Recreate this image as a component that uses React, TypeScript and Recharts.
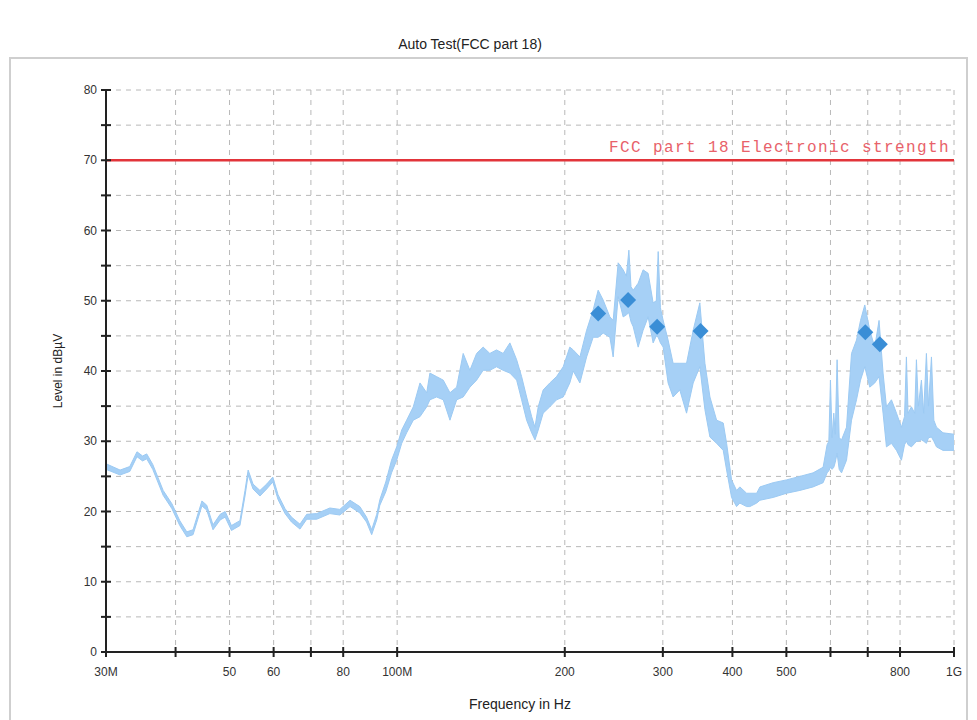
import React from 'react';
import { ComposedChart, Area, Scatter, XAxis, YAxis, CartesianGrid, ReferenceLine, Label } from 'recharts';

const freqs = [30, 31.8, 33.1, 34.1, 34.9, 35.5, 36.4, 38.0, 39.4, 40.7, 41.9, 43.0, 44.6, 45.5, 46.7, 48.1, 49.1, 50.4, 52.2, 53.3, 54.0, 55.1, 56.7, 58.3, 59.8, 61.1, 62.9, 64.6, 66.9, 68.8, 71.7, 75.7, 78.9, 82.3, 85.7, 88.1, 90.0, 91.9, 93.1, 95.4,
  97.7, 99.8, 101.9, 104.0, 106.9, 109.9, 113.0, 114.5, 117.7, 121.0, 124.4, 127.9, 131.4, 135.1, 138.9, 142.7, 146.7, 150.8, 155.0, 159.4, 163.9, 167.3, 170.8, 174.4, 176.8, 179.2, 182.9, 188.0, 193.3, 198.7,
  204.2, 207.1, 212.9, 218.9, 224.9, 229.6, 234.4, 241.0, 244.3, 249.4, 254.6, 258.0, 260.7, 263.0, 265.4, 270.9, 276.5, 282.3, 288.2, 292.0, 294.3, 297.0, 300.4, 306.6, 313.0, 321.8, 330.9, 340.1, 349.6, 357.0,
  364.5, 374.7, 385.1, 390.5, 398.6, 406.9, 412.5, 424.2, 429.9, 442.2, 448.2, 473.4, 500.4, 528.7, 558.4, 582.0, 591.7, 596.0, 600.0, 604.0, 608.3, 612.0, 616.7, 622.0, 628.1, 641.2, 654.6, 668.2, 679.4, 691.5,
  705.9, 720.6, 733.5, 745.8, 756.3, 772.1, 788.3, 804.6, 815.0, 821.4, 827.0, 838.6, 850.0, 856.1, 863.0, 874.0, 882.0, 892.2, 900.0, 911.0, 920.0, 930.1, 955.7, 1000];
const lows = [26.0, 25.2, 25.7, 27.8, 27.2, 27.5, 26.0, 22.3, 20.4, 18.0, 16.4, 16.7, 20.8, 20.2, 17.4, 18.8, 19.2, 17.3, 18.0, 22.2, 25.2, 23.2, 22.2, 23.2, 24.2, 21.7, 19.7, 18.5, 17.5, 18.9, 18.9, 19.7, 19.5, 20.7, 19.8, 18.5, 16.7, 18.8, 20.9, 22.8,
  25.5, 27.3, 29.7, 31.2, 33.0, 33.5, 34.9, 35.9, 36.3, 35.9, 33.0, 35.9, 36.3, 37.7, 38.7, 40.1, 40.1, 40.6, 40.1, 39.7, 38.7, 35.9, 33.0, 31.2, 30.2, 31.6, 34.0, 34.9, 35.9, 36.3,
  38.3, 40.0, 38.3, 42.0, 44.8, 44.8, 45.4, 44.8, 42.0, 50.6, 47.7, 48.0, 48.3, 47.0, 46.3, 43.4, 45.8, 47.7, 44.0, 45.0, 44.8, 44.0, 43.4, 38.3, 36.3, 37.3, 34.0, 38.3, 40.6, 34.5,
  30.6, 29.7, 28.7, 25.9, 22.0, 20.7, 21.2, 20.7, 20.7, 21.2, 21.6, 22.0, 22.6, 23.0, 23.5, 24.1, 25.5, 25.8, 26.3, 26.0, 26.3, 27.0, 28.3, 26.0, 25.5, 27.3, 33.0, 35.9, 38.7, 40.6,
  37.7, 38.3, 39.2, 34.0, 29.2, 29.7, 28.7, 27.3, 29.5, 30.0, 29.5, 29.2, 29.7, 30.0, 30.0, 30.2, 30.0, 29.7, 30.5, 30.6, 30.0, 29.2, 28.7, 28.7];
const highs = [26.8, 25.9, 26.4, 28.5, 27.9, 28.2, 26.7, 23.0, 21.1, 18.7, 17.1, 17.4, 21.5, 20.9, 18.1, 19.6, 20.0, 18.0, 18.7, 23.0, 25.9, 23.9, 23.0, 23.9, 24.9, 22.4, 20.4, 19.2, 18.2, 19.6, 19.7, 20.5, 20.3, 21.6, 20.7, 19.2, 17.4, 19.6, 21.7, 24.2,
  27.3, 29.2, 31.6, 33.0, 34.9, 38.3, 36.9, 39.7, 39.2, 38.7, 36.9, 37.7, 42.5, 40.1, 42.5, 43.4, 42.5, 43.0, 42.5, 44.0, 41.6, 39.2, 36.3, 33.5, 32.0, 34.9, 37.3, 38.3, 39.2, 40.6,
  43.4, 43.0, 42.0, 45.8, 48.7, 51.5, 50.1, 47.7, 47.2, 55.4, 54.4, 53.5, 57.2, 52.0, 51.5, 52.5, 54.4, 53.9, 49.7, 50.0, 57.0, 49.0, 47.2, 44.4, 41.1, 41.1, 41.1, 45.8, 49.7, 41.1,
  36.3, 33.0, 32.6, 29.7, 24.5, 23.0, 23.5, 22.6, 22.6, 22.6, 23.5, 24.1, 24.5, 25.0, 25.5, 26.3, 29.5, 30.0, 38.7, 30.5, 34.0, 31.0, 41.6, 30.5, 30.2, 32.0, 42.5, 44.4, 47.2, 49.4,
  45.8, 43.4, 47.2, 39.7, 34.9, 35.9, 34.0, 32.0, 33.5, 42.0, 34.0, 34.9, 34.0, 41.6, 35.0, 38.7, 34.0, 42.5, 35.0, 42.0, 33.0, 32.0, 31.2, 31.0];

const markerFreqs = [229.6, 259.9, 293.0, 350.6, 693.0, 735.9];
const markerLevels = [48.2, 50.1, 46.3, 45.7, 45.5, 43.8];

const xTicks = [30, 40, 50, 60, 70, 80, 100, 200, 300, 400, 500, 600, 700, 800, 1000];
const xTickLabels = ['30M', '', '50', '60', '', '80', '100M', '200', '300', '400', '500', '', '', '800', '1G'];
const yTicks = [0, 5, 10, 15, 20, 25, 30, 35, 40, 45, 50, 55, 60, 65, 70, 75, 80];
const yLabelTicks = [0, 10, 20, 30, 40, 50, 60, 70, 80];

const limitValue = 70;
const limitLabel = 'FCC part 18 Electronic strength';

const traceRows = freqs.map((f, i) => ({ freq: f, range: [lows[i], highs[i]] }));
const markerRows = markerFreqs.map((f, i) => ({ freq: f, level: markerLevels[i] }));

const FONT = '"Liberation Sans", Arial, sans-serif';

const YTick = (props: any) => {
  const { x, y, payload } = props;
  const v = payload.value;
  return (
    <g>
      <line x1={x - 5} x2={x + 5} y1={y} y2={y} stroke="#222" strokeWidth={2} />
      {yLabelTicks.includes(v) && (
        <text x={x - 9} y={y} dy={4} textAnchor="end" fontSize={12} fontFamily={FONT} fill="#333">{v}</text>
      )}
    </g>
  );
};

const XTick = (props: any) => {
  const { x, y, payload } = props;
  const idx = xTicks.indexOf(payload.value);
  const lab = idx >= 0 ? xTickLabels[idx] : '';
  return (
    <g>
      <line x1={x} x2={x} y1={y - 5} y2={y + 5} stroke="#222" strokeWidth={2} />
      {lab && (
        <text x={x} y={y + 24} textAnchor="middle" fontSize={12} fontFamily={FONT} fill="#333">{lab}</text>
      )}
    </g>
  );
};

const Diamond = (props: any) => {
  const { cx, cy } = props;
  const r = 8;
  return <polygon points={`${cx},${cy - r} ${cx + r},${cy} ${cx},${cy + r} ${cx - r},${cy}`} fill="#3a8ed6" />;
};

export default function App() {
  return (
    <div style={{ position: 'absolute', left: 0, top: 0, width: 977, height: 720, background: '#fff', overflow: 'hidden', fontFamily: FONT }}>
      <div style={{ position: 'absolute', left: 0, top: 36, width: 940, textAlign: 'center', fontSize: 14, color: '#222' }}>Auto Test(FCC part 18)</div>
      <div style={{ position: 'absolute', left: 9, top: 57, width: 955, height: 700, border: '2px solid #cfcfcf' }} />
      <div style={{ position: 'absolute', left: 0, top: 0 }}>
        <ComposedChart width={977} height={720} data={traceRows} margin={{ top: 90, right: 23, bottom: 38, left: 46 }}>
          <CartesianGrid stroke="#b8b8b8" strokeDasharray="5 5" />
          <XAxis
            dataKey="freq"
            type="number"
            scale="log"
            domain={[30, 1000]}
            ticks={xTicks}
            allowDataOverflow
            height={30}
            stroke="#222"
            strokeWidth={2}
            tickSize={0}
            tickMargin={0}
            tickLine={false}
            tick={<XTick />}
            interval={0}
          >
            <Label value="Frequency in Hz" position="bottom" offset={17} dx={-10} fontSize={14} fontFamily={FONT} fill="#222" />
          </XAxis>
          <YAxis
            type="number"
            domain={[0, 80]}
            ticks={yTicks}
            width={60}
            stroke="#222"
            strokeWidth={2}
            tickSize={0}
            tickMargin={0}
            tickLine={false}
            tick={<YTick />}
            interval={0}
          >
            <Label
              content={(p: any) => {
                const vb = p.viewBox || {};
                const cx = 62;
                const cy = (vb.y || 90) + (vb.height || 562) / 2;
                return (
                  <text x={cx} y={cy} transform={`rotate(-90, ${cx}, ${cy})`} textAnchor="middle" fontSize={12} fontFamily={FONT} fill="#222">Level in dBµV</text>
                );
              }}
            />
          </YAxis>
          <Area
            dataKey="range"
            type="linear"
            stroke="#9ccaf3"
            strokeWidth={1}
            fill="#a6d0f6"
            fillOpacity={1}
            dot={false}
            activeDot={false}
            isAnimationActive={false}
          />
          <ReferenceLine
            y={limitValue}
            stroke="#e2343a"
            strokeWidth={2.5}
            label={(p: any) => {
              const vb = p.viewBox || {};
              return (
                <text x={(vb.x || 0) + (vb.width || 0) - 4} y={(vb.y || 0) - 8} textAnchor="end" fontSize={16} letterSpacing={1.4} fontFamily='"Liberation Mono", "Courier New", monospace' fill="#e8626a">{limitLabel}</text>
              );
            }}
          />
          <Scatter data={markerRows} dataKey="level" shape={<Diamond />} isAnimationActive={false} />
        </ComposedChart>
      </div>
    </div>
  );
}
